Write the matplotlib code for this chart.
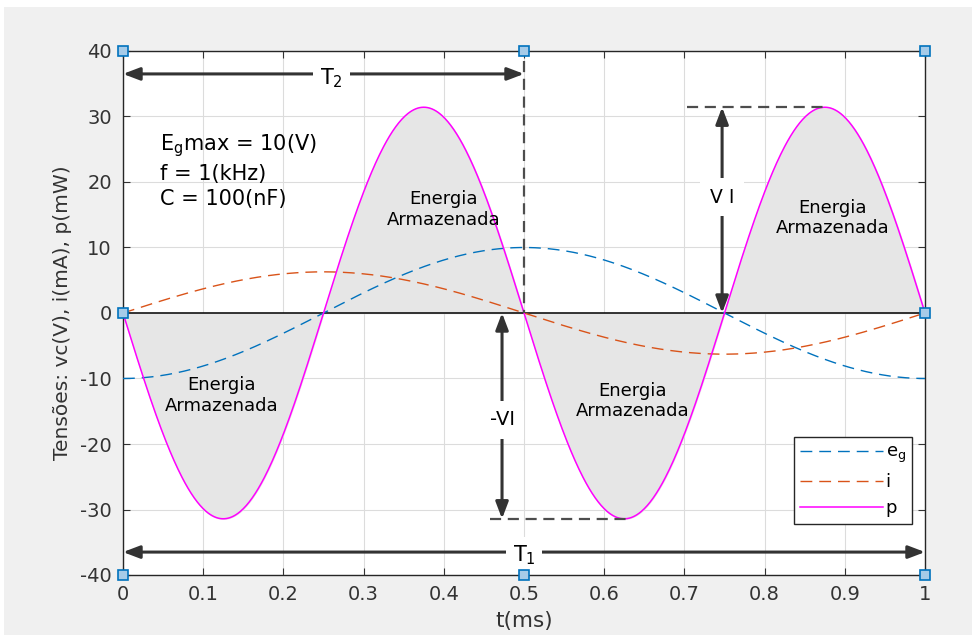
import numpy as np
import matplotlib.pyplot as plt
from matplotlib.patches import Rectangle

# circuit parameters (capacitor driven by a sine source)
Eg_max = 10.0      # V
f_khz = 1.0        # kHz
C_nF = 100.0       # nF

t = np.linspace(0, 1, 801)   # ms
w = 2 * np.pi * f_khz        # rad/ms
I_max = C_nF * 1e-9 * Eg_max * 2 * np.pi * f_khz * 1e3 * 1e3   # mA
eg = -Eg_max * np.cos(w * t)    # V
i = I_max * np.sin(w * t)       # mA
p = eg * i                      # mW
Pmax = Eg_max * I_max / 2

xticks = np.arange(0, 1.01, 0.1)
yticks = np.arange(-40, 41, 10)
xticklabels = ['0', '0.1', '0.2', '0.3', '0.4', '0.5', '0.6', '0.7', '0.8', '0.9', '1']

# data tips shown on the axes frame
tip_x = [0, 0.5, 1, 0, 1, 0, 0.5, 1]
tip_y = [40, 40, 40, 0, 0, -40, -40, -40]

plt.rcParams['font.family'] = ['DejaVu Sans']
plt.rcParams['axes.unicode_minus'] = False

fig = plt.figure(figsize=(9.77, 6.35), dpi=100, facecolor='white')
fig.patches.append(Rectangle((4 / 977, 0), 968 / 977, 628 / 635, transform=fig.transFigure,
                             facecolor='#f0f0f0', edgecolor='none', zorder=-10))
ax = fig.add_axes([123 / 977, 60 / 635, 802 / 977, 524 / 635])
ax.set_facecolor('white')

ax.fill_between(t, p, 0, color='#e6e6e6', zorder=1)
ax.axhline(0, color='black', lw=1.1, zorder=2)
l1, = ax.plot(t, eg, color='#0072BD', ls=(0, (8.5, 5)), lw=1, zorder=3, label='e$_{\\mathregular{g}}$')
l2, = ax.plot(t, i, color='#D95319', ls=(0, (8.5, 5)), lw=1, zorder=3, label='i')
l3, = ax.plot(t, p, color='#FF00FF', lw=1.1, zorder=3, label='p')

ax.set_xlim(0, 1)
ax.set_ylim(-40, 40)
ax.set_xticks(xticks)
ax.set_xticklabels(xticklabels)
ax.set_yticks(yticks)
ax.grid(True, color='#dcdcdc', lw=0.8)
ax.set_axisbelow(True)
ax.tick_params(direction='in', top=True, right=True, length=5, labelsize=14, colors='#333333', pad=7)
ax.tick_params(axis='y', pad=8)
for s in ax.spines.values():
    s.set_color('#262626')
    s.set_linewidth(1)

ax.set_xlabel('t(ms)', fontsize=15.5, color='#333333', labelpad=5)
ax.set_ylabel('Tensões: vc(V), i(mA), p(mW)', fontsize=14.5, color='#333333', labelpad=6)

ax.plot(tip_x, tip_y, ls='none', marker='s', ms=6.5, mfc='#a6cbe8', mec='#0072BD', mew=1.2,
        zorder=10, clip_on=False)

arrow = dict(arrowstyle='<|-|>,head_length=1.0,head_width=0.38', color='#333333', lw=2.2,
             shrinkA=0, shrinkB=0)
dash_kw = dict(color='#4d4d4d', ls=(0, (5, 3)), lw=1.6, zorder=6)

# T2 and T1 periods
ax.annotate('', xy=(0.5, 36.5), xytext=(0.0, 36.5), arrowprops=arrow, zorder=7)
ax.text(0.26, 35.9, 'T$_{\\mathregular{2}}$', ha='center', va='center', fontsize=15,
        bbox=dict(facecolor='white', edgecolor='none', pad=5), zorder=8)
ax.plot([0.5, 0.5], [38.5, 0], **dash_kw)

ax.annotate('', xy=(1.0, -36.5), xytext=(0.0, -36.5), arrowprops=arrow, zorder=7)
ax.text(0.5, -37.0, 'T$_{\\mathregular{1}}$', ha='center', va='center', fontsize=15,
        bbox=dict(facecolor='white', edgecolor='none', pad=5), zorder=8)

# peak power marks
ax.plot([0.703, 0.875], [Pmax, Pmax], **dash_kw)
ax.annotate('', xy=(0.747, Pmax), xytext=(0.747, 0), arrowprops=arrow, zorder=7)
ax.text(0.747, 17.7, 'V I', ha='center', va='center', fontsize=13.5,
        bbox=dict(facecolor='white', edgecolor='none', pad=7), zorder=8)

ax.plot([0.458, 0.63], [-Pmax, -Pmax], **dash_kw)
ax.annotate('', xy=(0.4726, -Pmax), xytext=(0.4726, 0), arrowprops=arrow, zorder=7)
ax.text(0.4726, -16.3, '-VI', ha='center', va='center', fontsize=14,
        bbox=dict(facecolor='white', edgecolor='none', pad=7), zorder=8)

ax.text(0.046, 27.6, 'E$_{\\mathregular{g}}$max = 10(V)\nf = 1(kHz)\nC = 100(nF)', ha='left', va='top',
        fontsize=15, linespacing=1.3, zorder=8)

for x, y in [(0.40, 15.8), (0.123, -12.6), (0.635, -13.4), (0.885, 14.5)]:
    ax.text(x, y, 'Energia\nArmazenada', ha='center', va='center', fontsize=13,
            linespacing=1.15, zorder=8)

leg = ax.legend(handles=[l1, l2, l3], loc='lower right', bbox_to_anchor=(0.984, 0.098),
                fontsize=13, fancybox=False, framealpha=1, edgecolor='#262626',
                handlelength=4.6, handletextpad=0.15, borderpad=0.35, labelspacing=0.45,
                borderaxespad=0)
leg.get_frame().set_linewidth(1)

fig.savefig('out.png', dpi=100, facecolor=fig.get_facecolor())
